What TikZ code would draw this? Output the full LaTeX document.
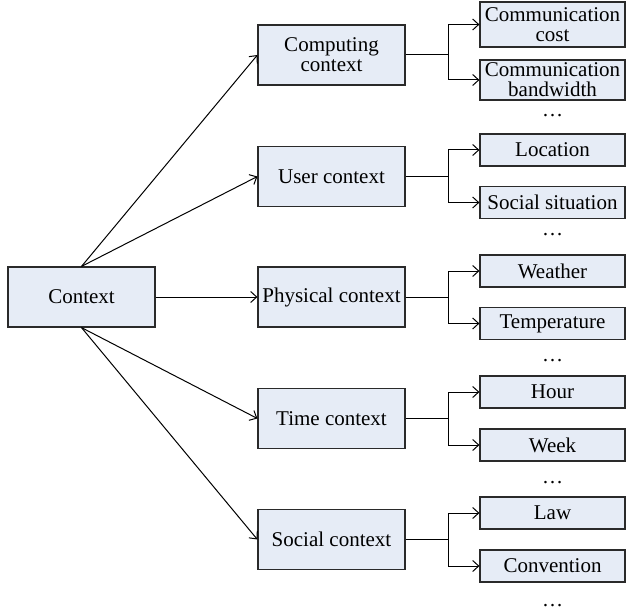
\documentclass[tikz,border=0pt]{standalone}
\usepackage{fontspec}
\setmainfont{Liberation Serif}
\usetikzlibrary{arrows.meta}
\definecolor{boxfill}{HTML}{E6ECF6}
\definecolor{boxline}{HTML}{2A2A2A}
\tikzset{
  basebox/.style={draw=boxline, fill=boxfill, line width=1.2pt, inner sep=0pt, align=center,
    font=\fontsize{21}{20}\selectfont},
  lvlone/.style={basebox, minimum width=147pt, minimum height=60pt},
  lvltwo/.style={basebox, minimum width=145pt, minimum height=32pt},
  dotsnode/.style={inner sep=0pt, font=\fontsize{21}{20}\selectfont},
  conn/.style={line width=1pt, draw=black, -{Straight Barb[length=6pt,width=11pt,line width=1pt]}},
  plain/.style={line width=1pt, draw=black},
}
\begin{document}
\begin{tikzpicture}[x=1pt,y=-1pt]
\useasboundingbox (0,0) rectangle (626,612);
% root
\node[lvlone] (ctx) at (81.5,297) {Context};
% level one
\node[lvlone] (comp) at (331.5,55) {Computing\\context};
\node[lvlone] (user) at (331.5,176.5) {User context};
\node[lvlone] (phys) at (331.5,297) {Physical context};
\node[lvlone] (time) at (331.5,418.5) {Time context};
\node[lvlone] (soc) at (331.5,539.5) {Social context};
% level two
\node[lvltwo, minimum height=45pt] (cost) at (552.5,24.5) {Communication\\cost};
\node[lvltwo, minimum height=40pt] (bw) at (552.5,80) {Communication\\bandwidth};
\node[dotsnode] (d1) at (552.5,116) {\dots};
\node[lvltwo] (loc) at (552.5,150) {Location};
\node[lvltwo] (sit) at (552.5,202.5) {Social situation};
\node[dotsnode] (d2) at (552.5,235) {\dots};
\node[lvltwo] (wea) at (552.5,271) {Weather};
\node[lvltwo] (tmp) at (552.5,323.5) {Temperature};
\node[dotsnode] (d3) at (552.5,361) {\dots};
\node[lvltwo] (hour) at (552.5,392) {Hour};
\node[lvltwo] (week) at (552.5,445) {Week};
\node[dotsnode] (d4) at (552.5,483) {\dots};
\node[lvltwo] (law) at (552.5,513) {Law};
\node[lvltwo] (conv) at (552.5,566) {Convention};
\node[dotsnode] (d5) at (552.5,606) {\dots};
% root connectors
\draw[conn] (ctx.north) -- (comp.west);
\draw[conn] (ctx.north) -- (user.west);
\draw[conn] (ctx.east) -- (phys.west);
\draw[conn] (ctx.south) -- (time.west);
\draw[conn] (ctx.south) -- (soc.west);
% branches
\foreach \p/\a/\b in {comp/cost/bw, user/loc/sit, phys/wea/tmp, time/hour/week, soc/law/conv}{
  \coordinate (\p-br) at ([xshift=43pt]\p.east);
  \draw[plain] (\p.east) -- (\p-br);
  \draw[conn] (\p-br) |- (\a.west);
  \draw[conn] (\p-br) |- (\b.west);
}
\end{tikzpicture}
\end{document}
